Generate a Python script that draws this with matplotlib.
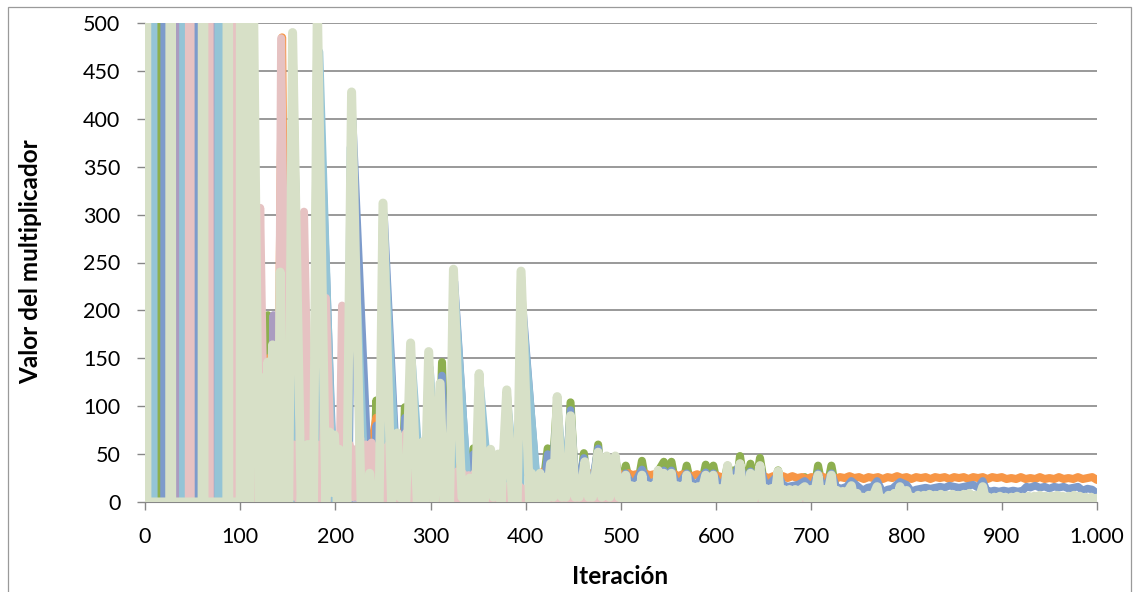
import matplotlib
matplotlib.use("Agg")
import matplotlib.pyplot as plt
from matplotlib.patches import Rectangle

plt.rcParams["path.simplify"] = False

# ---------------- data (iteration, multiplier value) ----------------
LAVENDER = [(1, 2), (200, 2), (400, 2), (600, 1), (800, 1), (1000, 1)]

GREEN = [(14, 0), (15, 3000), (16, 0), (81, 0), (82, 3000), (83, 0), (126, 20), (129, 195), (132, 10),
         (145, 5), (151, 5), (155, 480), (164, 5), (177, 5), (181, 500), (190, 5), (213, 5), (217, 420),
         (227, 5), (240, 10), (243, 106), (247, 15), (250, 300), (259, 5), (270, 15), (273, 99), (276, 15),
         (279, 160), (285, 5), (295, 5), (298, 150), (303, 5), (308, 15), (312, 146), (316, 15), (321, 15),
         (324, 240), (331, 15), (340, 15), (345, 56), (349, 15), (351, 130), (356, 15), (366, 15), (371, 25),
         (375, 51), (379, 15), (380, 115), (386, 10), (392, 10), (395, 235), (404, 10), (418, 15), (423, 56),
         (427, 15), (433, 108), (438, 15), (443, 15), (447, 104), (452, 15), (457, 15), (461, 51), (465, 15),
         (471, 15), (476, 60), (480, 15), (485, 45), (490, 15), (494, 45), (500, 15), (505, 38), (510, 15),
         (517, 15), (522, 43), (527, 15), (534, 15), (539, 32), (545, 42), (549, 15), (553, 42), (558, 15),
         (564, 15), (569, 38), (574, 15), (584, 15), (589, 39), (593, 15), (597, 38), (602, 15), (607, 15),
         (612, 38), (615, 15), (618, 33), (621, 15), (625, 48), (630, 15), (632, 15), (636, 40), (641, 15),
         (646, 46), (651, 15), (660, 15), (665, 33), (670, 12), (688, 12), (693, 26), (698, 12), (703, 12),
         (707, 38), (712, 12), (716, 12), (721, 38), (726, 12), (800, 6), (900, 5), (1000, 4)]

ORANGE = [(55, 0), (57, 520), (117, 100), (120, 60), (124, 40), (127, 100), (129, 150), (132, 60), (136, 40),
          (140, 100), (144, 485), (148, 60), (153, 40), (158, 60), (165, 45), (172, 50), (178, 60), (184, 95),
          (190, 50), (197, 45), (204, 50), (212, 40), (220, 46), (226, 40), (232, 45), (238, 60), (243, 88),
          (248, 45), (254, 40), (260, 42), (266, 45), (272, 75), (277, 40), (283, 38), (290, 42), (296, 38),
          (302, 40), (308, 44), (312, 60), (316, 38), (322, 36), (328, 38), (334, 35), (340, 37), (346, 40),
          (352, 36), (358, 35), (366, 38), (372, 40), (378, 34), (384, 33), (390, 35), (396, 32), (402, 31),
          (408, 32), (414, 30), (420, 32), (426, 30), (432, 31), (438, 29), (444, 31), (450, 29), (456, 31),
          (462, 29), (468, 30), (474, 28), (480, 30), (486, 28), (492, 30), (496, 28),
          (500, 29), (504, 27), (508, 30), (512, 28), (516, 29), (520, 27), (525, 30), (530, 28), (535, 29),
          (540, 27), (545, 29), (550, 28), (555, 30), (560, 27), (565, 29), (570, 28), (575, 27), (580, 29),
          (585, 27), (590, 28), (595, 26), (600, 28), (605, 26), (610, 27), (615, 25), (620, 27), (625, 26),
          (630, 27), (635, 25), (640, 27), (645, 26), (650, 27), (655, 25), (660, 27), (665, 26), (670, 27),
          (675, 25), (680, 27), (685, 25), (690, 26), (695, 24), (700, 26), (705, 25), (710, 27), (715, 25),
          (720, 26), (725, 24), (730, 26), (735, 25), (740, 27), (745, 25), (750, 26), (755, 24), (760, 26),
          (765, 25), (770, 26), (775, 24), (780, 26), (785, 25), (790, 27), (795, 25), (800, 26), (805, 24),
          (810, 26), (815, 25), (820, 26), (825, 24), (830, 26), (835, 25), (840, 26), (845, 24), (850, 26),
          (855, 25), (860, 26), (865, 24), (870, 26), (875, 25), (880, 26), (885, 24), (890, 26), (895, 25),
          (900, 26), (905, 24), (910, 25), (915, 24), (920, 26), (925, 24), (930, 25), (935, 24), (940, 26),
          (945, 24), (950, 25), (955, 24), (960, 26), (965, 24), (970, 25), (975, 24), (980, 26), (985, 24),
          (990, 25), (995, 26), (1000, 23)]

BLUE = [(20, 0), (21, 3000), (22, 0), (52, 0), (53, 3000), (54, 0), (105, 0), (106, 3000), (107, 0),
        (115, 0), (120, 5), (152, 0), (156, 420), (163, 0), (178, 0), (182, 470), (199, 0), (214, 0),
        (218, 400), (236, 0), (240, 10), (243, 80), (246, 15), (248, 0), (251, 300), (266, 0), (270, 20),
        (273, 88), (276, 20), (279, 150), (283, 10), (295, 10), (298, 140), (303, 10), (306, 25), (312, 132),
        (316, 25), (322, 0), (325, 230), (340, 0), (343, 25), (345, 50), (348, 25), (351, 120), (356, 25),
        (362, 30), (366, 33), (370, 30), (375, 46), (380, 25), (384, 28), (389, 26), (393, 0), (397, 200),
        (413, 0), (416, 20), (420, 22), (423, 50), (427, 22), (433, 95), (438, 22), (442, 23), (447, 96),
        (452, 22), (456, 23), (461, 46), (465, 22), (470, 21), (476, 56), (480, 22), (485, 30), (490, 21),
        (494, 28), (500, 20), (505, 30), (510, 20), (515, 21), (522, 34), (528, 21), (533, 20), (539, 24),
        (545, 33), (549, 22), (553, 33), (558, 20), (563, 21), (569, 30), (575, 20), (580, 19), (589, 31),
        (593, 21), (597, 30), (602, 19), (607, 20), (612, 30), (618, 26), (625, 40), (630, 20), (636, 32),
        (641, 21), (646, 38), (651, 20), (656, 19), (665, 28), (670, 18), (675, 16), (680, 17), (686, 18),
        (693, 22), (698, 17), (702, 18), (707, 30), (711, 18), (716, 17), (721, 30), (726, 16), (731, 14),
        (737, 16), (742, 22), (748, 17), (754, 12), (759, 15), (764, 16), (769, 22), (775, 10), (780, 13),
        (785, 14), (793, 21), (800, 18), (805, 11), (810, 13), (815, 14), (820, 15), (825, 14), (830, 15),
        (835, 16), (840, 15), (845, 17), (850, 16), (855, 15), (860, 16), (865, 17), (870, 18), (875, 15),
        (880, 22), (884, 12), (888, 11), (892, 12), (897, 11), (902, 12), (907, 11), (912, 12), (917, 11),
        (922, 12), (926, 16), (930, 15), (935, 17), (940, 15), (945, 16), (950, 14), (955, 16), (960, 15),
        (965, 16), (970, 14), (975, 15), (980, 16), (985, 12), (990, 14), (995, 13), (1000, 9)]

PURPLE = [(34, 0), (35, 3000), (36, 0), (72, 0), (73, 3000), (74, 0),
          (131, 0), (135, 195), (138, 10), (142, 0), (146, 280), (150, 0), (165, 0), (168, 120), (172, 0),
          (210, 5), (500, 3), (1000, 3)]

AQUA = [(7, 0), (8, 3000), (9, 0), (40, 0), (41, 3000), (42, 0), (77, 0), (78, 3000),
        (79, 0), (100, 0), (153, 0), (156, 400), (166, 0), (180, 0), (183, 470), (197, 30), (200, 0),
        (213, 0), (216, 370), (230, 40), (233, 0), (249, 0), (251, 280), (263, 40), (266, 0), (277, 0),
        (280, 150), (290, 10), (296, 0), (299, 140), (308, 10), (322, 0), (325, 220), (338, 30), (341, 0),
        (349, 0), (352, 120), (362, 10), (378, 0), (381, 100), (390, 5), (394, 0), (397, 190), (412, 15),
        (415, 0), (431, 0), (434, 90), (442, 5), (500, 3), (1000, 3)]

PINK = [(46, 0), (47, 3000), (48, 0), (66, 0), (67, 3000), (68, 0), (92, 0), (93, 3000), (94, 0),
        (110, 0), (113, 40), (116, 0), (118, 60), (121, 307), (126, 0), (128, 50),
        (131, 5), (134, 55), (137, 5), (140, 0), (143, 484), (149, 0), (151, 50), (154, 5), (157, 60),
        (160, 5), (162, 0), (167, 303), (173, 0), (175, 55), (178, 5), (181, 60), (184, 5), (186, 0),
        (190, 213), (196, 20), (199, 60), (202, 5), (204, 0), (207, 205), (212, 30), (215, 60), (218, 5),
        (221, 55), (223, 5), (226, 67), (229, 0), (232, 60), (235, 0), (238, 62), (241, 0), (244, 58),
        (247, 0), (250, 57), (253, 0), (256, 60), (259, 0), (262, 58), (265, 2), (268, 68), (271, 0),
        (274, 72), (277, 0), (280, 55), (283, 2), (286, 54), (289, 0), (292, 52), (295, 2), (298, 50),
        (301, 0), (304, 48), (307, 2), (310, 50), (313, 0), (316, 35), (319, 2), (322, 30), (325, 0),
        (328, 32), (331, 2), (334, 30), (337, 0), (340, 28), (343, 2), (346, 30), (349, 0), (352, 20),
        (355, 2), (358, 18), (361, 0), (364, 20), (367, 2), (370, 18), (373, 0), (376, 18), (379, 2),
        (382, 17), (385, 0), (388, 18), (391, 2), (394, 16), (397, 0), (400, 14), (403, 2), (406, 14),
        (409, 0), (412, 13), (415, 2), (418, 14), (421, 0), (424, 12), (427, 2), (430, 12), (433, 0),
        (436, 11), (439, 2), (442, 12), (445, 0), (448, 10), (451, 2), (454, 10), (457, 0), (460, 10),
        (463, 2), (466, 9), (469, 0), (472, 8), (475, 2), (478, 8), (481, 0), (490, 4), (520, 2), (600, 3),
        (700, 2), (800, 2), (900, 2), (1000, 2)]

LIGHTGREEN = [(1, 3000), (2, 0), (26, 0), (27, 3000), (28, 0), (60, 0),
              (61, 3000), (62, 0), (86, 0), (87, 3000), (88, 0), (100, 0), (101, 3000), (102, 0),
              (110, 0), (111, 800), (118, 150), (120, 0), (123, 0), (125, 130),
              (127, 0), (129, 146), (131, 10), (134, 164), (136, 0), (138, 55), (140, 5), (142, 240), (145, 0),
              (147, 35), (149, 0), (151, 0), (155, 490), (164, 0), (166, 45), (168, 5), (171, 60), (174, 0),
              (177, 0), (181, 520), (190, 0), (192, 60), (194, 73), (196, 10), (199, 70), (202, 0), (204, 55),
              (207, 5), (210, 40), (212, 0), (217, 428), (227, 0), (233, 0), (236, 30), (239, 0), (246, 0),
              (250, 312), (259, 0), (265, 72), (268, 5), (274, 0), (279, 166), (286, 0), (292, 63), (294, 0),
              (298, 157), (304, 0), (310, 124), (314, 0), (320, 0), (324, 243), (331, 52), (333, 5), (338, 0),
              (341, 25), (344, 0), (347, 0), (351, 134), (356, 0), (363, 55), (366, 5), (371, 50), (374, 0),
              (380, 117), (386, 0), (391, 0), (395, 241), (404, 0), (406, 30), (408, 3), (410, 25), (413, 3),
              (415, 30), (417, 5), (420, 25), (422, 3), (426, 40), (429, 5), (433, 110), (438, 5), (440, 22),
              (442, 5), (444, 20), (447, 90), (452, 5), (454, 22), (456, 5), (459, 20), (462, 42), (466, 5),
              (468, 18), (470, 5), (472, 20), (476, 52), (480, 5), (482, 20), (485, 48), (488, 5), (490, 20),
              (494, 48), (498, 5),
              (500, 17), (502, 2), (505, 28), (508, 2), (511, 17), (514, 2), (517, 17), (519, 2), (522, 28),
              (525, 2), (528, 17), (531, 2), (534, 17), (536, 2), (539, 33), (542, 2), (545, 30), (548, 2),
              (550, 17), (553, 30), (556, 2), (559, 17), (562, 2), (565, 17), (567, 2), (569, 28), (572, 2),
              (575, 16), (578, 2), (581, 16), (584, 2), (586, 16), (589, 28), (592, 2), (594, 16), (597, 28),
              (600, 2), (603, 14), (606, 2), (609, 14), (612, 38), (615, 2), (618, 24), (621, 2), (625, 40),
              (628, 2), (631, 14), (633, 2), (636, 30), (639, 2), (642, 14), (646, 38), (649, 2), (652, 14),
              (655, 2), (658, 14), (661, 2), (665, 32), (668, 2), (671, 13), (674, 2), (677, 13), (680, 2),
              (683, 13), (686, 2), (689, 13), (693, 16), (696, 2), (699, 13), (702, 2), (707, 28), (710, 2),
              (713, 13), (716, 2), (721, 28), (724, 2), (727, 12), (730, 2), (733, 11), (736, 2), (739, 12),
              (742, 17), (745, 1), (748, 9), (751, 1), (754, 5), (757, 1), (760, 7), (763, 1), (766, 9),
              (769, 16), (772, 1), (775, 4), (778, 1), (781, 7), (784, 1), (787, 9), (790, 1), (793, 16),
              (796, 1), (800, 12), (803, 1), (806, 5), (809, 1), (812, 7), (815, 1), (818, 7), (821, 1),
              (824, 8), (827, 1), (830, 7), (833, 1), (836, 8), (839, 1), (842, 7), (845, 1), (848, 8),
              (851, 1), (854, 7), (857, 1), (860, 8), (863, 1), (866, 9), (869, 1), (872, 7), (875, 1),
              (880, 16), (883, 1), (886, 5), (889, 1), (892, 5), (895, 1), (898, 6), (901, 1), (904, 5),
              (907, 1), (910, 5), (913, 1), (916, 6), (919, 1), (922, 5), (925, 1), (928, 6), (931, 1),
              (934, 6), (937, 1), (940, 7), (943, 1), (946, 6), (949, 1), (952, 6), (955, 1), (958, 7),
              (961, 1), (964, 6), (967, 1), (970, 6), (973, 1), (976, 7), (979, 1), (982, 6), (985, 1),
              (988, 5), (991, 1), (994, 5), (997, 1), (1000, 4)]

X_TICKS = [0, 100, 200, 300, 400, 500, 600, 700, 800, 900, 1000]
X_TICK_LABELS = ["0", "100", "200", "300", "400", "500", "600", "700", "800", "900", "1.000"]
Y_TICKS = [0, 50, 100, 150, 200, 250, 300, 350, 400, 450, 500]
X_LABEL = "Iteración"
Y_LABEL = "Valor del multiplicador"

# drawing order: first = bottom
SERIES = [
    (LAVENDER, "#C6CDE1", 5.8),
    (GREEN, "#8DAF4F", 5.8),
    (ORANGE, "#F79646", 5.8),
    (BLUE, "#7D9BCB", 5.5),
    (PURPLE, "#AA9CC0", 5.8),
    (AQUA, "#94C4D6", 5.8),
    (PINK, "#E6C2C2", 5.8),
    (LIGHTGREEN, "#D7E0C7", 6.5),
]

# ---------------- figure ----------------
plt.rcParams["font.family"] = ["Lato", "DejaVu Sans"]
W, H = 1136, 592
fig = plt.figure(figsize=(W / 100, H / 100), dpi=100)
ax = fig.add_axes([145 / W, 90 / H, 952 / W, 479 / H])

for pts, col, lw in SERIES:
    xs = [p[0] for p in pts]
    ys = [p[1] for p in pts]
    ax.plot(xs, ys, color=col, lw=lw, solid_joinstyle="round", solid_capstyle="round")

ax.set_xlim(0, 1000)
ax.set_ylim(0, 500)
ax.set_axisbelow(True)
ax.yaxis.grid(True, color="#878787", lw=1.2)
ax.xaxis.grid(False)
for s in ["top", "right", "left"]:
    ax.spines[s].set_visible(False)
ax.spines["bottom"].set_color("#878787")
ax.spines["bottom"].set_zorder(0.6)

ax.set_xticks(X_TICKS)
ax.set_xticklabels(X_TICK_LABELS)
ax.set_yticks(Y_TICKS)
ax.set_yticklabels([str(v) for v in Y_TICKS])
ax.tick_params(axis="both", direction="out", length=5.8, width=1, color="#878787",
               labelsize=15.5, labelcolor="#000000")
ax.tick_params(axis="y", pad=12)
ax.tick_params(axis="x", pad=12)

fig.text(31 / W, 1 - 262 / H, Y_LABEL, rotation=90, ha="center", va="center",
         fontsize=17.5, fontweight="bold")
fig.text(620 / W, 1 - 577 / H, X_LABEL, ha="center", va="center",
         fontsize=17.5, fontweight="bold")

fig.patches.append(Rectangle((8 / W, -0.02), (1131 - 8) / W, 1.02 - 7 / H,
                             transform=fig.transFigure, fill=False,
                             edgecolor="#9A9A9A", lw=0.9))

fig.savefig("out.png", dpi=100)
